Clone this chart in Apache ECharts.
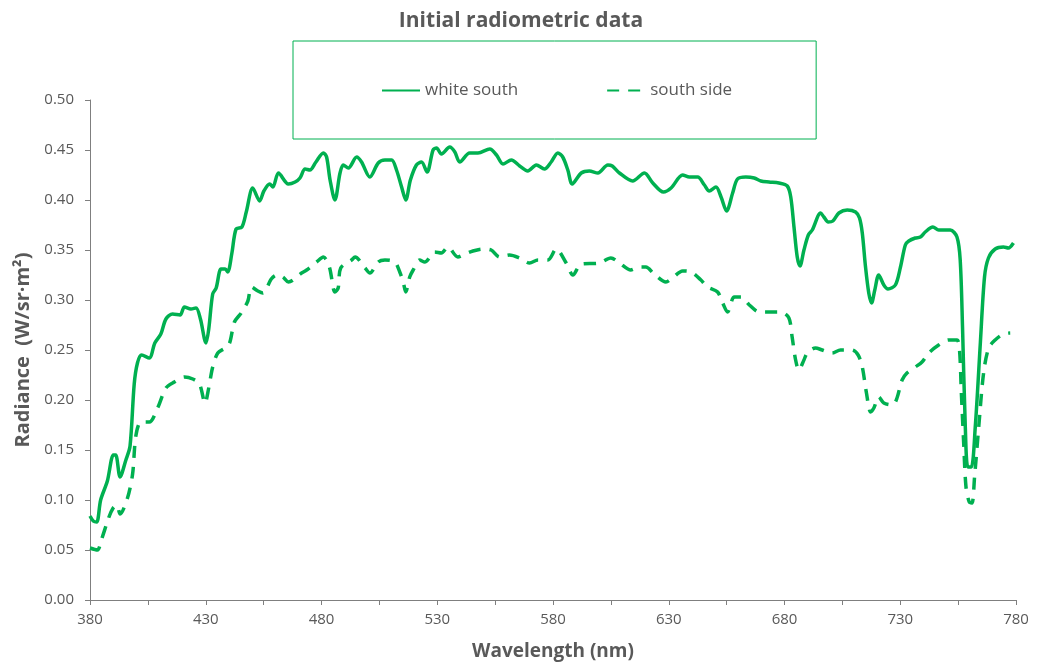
<!DOCTYPE html>
<html>
<head>
<meta charset="utf-8">
<script src="https://cdn.jsdelivr.net/npm/echarts@6/dist/echarts.min.js"></script>
<style>html,body{margin:0;padding:0;background:#fff}#c{width:1042px;height:662px}</style>
</head>
<body>
<div id="c"></div>
<script>
const titleText = 'Initial radiometric data';
const seriesNames = ['white south', 'south side'];
const xTickLabels = [380, 430, 480, 530, 580, 630, 680, 730, 780];

const wlSolid = [380,381.4,382.9,384.6,387.5,390.1,391.1,393,395.5,397.3,399.1,400.5,402.3,405.6,408,410.6,412.8,415.7,418.9,420.8,423.6,425.8,427.7,430.1,431.3,433,434.5,436.6,438.4,439.5,441.3,443.1,445.6,447.5,450.3,453.3,455.1,457.6,459,461.4,465.7,468.6,470.7,472.9,475,477.6,480.8,482.2,483.7,485.8,488,489.4,491.6,495.2,497.3,500.9,504.5,507.4,510.3,512.4,514.6,516.4,518.4,521,523.2,525.6,528.2,529.7,531.8,535.4,537.6,539.7,544,547.6,552.7,555.6,558.4,562,565.6,569.1,572.8,576.3,579.2,582.1,584.2,586.4,588.3,592.2,595.7,599.4,603.7,605.6,608.7,614.4,619.5,623.1,627.7,631,636,638.9,642.5,645.4,647.5,650.4,652.6,655,657.6,659.7,663.3,666.9,669.8,673.3,677.6,681.2,682.7,684.1,685.5,686.7,688.4,690.3,692,695.6,697,698.9,700.9,703.5,707.1,710.7,712.4,713.6,715,716.4,717.6,719,720.7,722.9,724.7,727.9,730.1,732.2,733.7,736.5,738.7,740.8,744.1,746.6,751.6,754.5,755.9,756.9,758.1,759.2,760.7,762.4,764.6,766.4,768.1,771,774.6,776.7,778.9];
const radSolid = [0.084,0.079,0.078,0.100,0.119,0.145,0.145,0.123,0.140,0.154,0.216,0.237,0.245,0.242,0.257,0.266,0.281,0.286,0.285,0.293,0.291,0.292,0.281,0.257,0.271,0.306,0.312,0.331,0.331,0.328,0.347,0.371,0.373,0.388,0.412,0.399,0.409,0.416,0.413,0.427,0.416,0.418,0.422,0.431,0.430,0.438,0.447,0.443,0.420,0.400,0.427,0.435,0.432,0.443,0.438,0.423,0.437,0.440,0.440,0.430,0.413,0.400,0.420,0.435,0.438,0.428,0.450,0.452,0.446,0.453,0.448,0.438,0.447,0.447,0.451,0.445,0.436,0.440,0.434,0.429,0.435,0.431,0.438,0.447,0.443,0.430,0.416,0.427,0.429,0.427,0.435,0.434,0.427,0.419,0.427,0.417,0.408,0.412,0.425,0.423,0.423,0.415,0.409,0.413,0.403,0.389,0.407,0.421,0.423,0.422,0.419,0.418,0.417,0.414,0.403,0.373,0.343,0.334,0.350,0.365,0.370,0.387,0.383,0.378,0.379,0.387,0.390,0.388,0.382,0.367,0.333,0.307,0.297,0.310,0.325,0.315,0.311,0.315,0.333,0.355,0.359,0.362,0.363,0.368,0.373,0.370,0.370,0.363,0.340,0.273,0.173,0.133,0.133,0.173,0.257,0.323,0.342,0.351,0.353,0.352,0.357];

const wlDashed = [380,383.2,384.9,388.2,390,391.6,393,396.2,398.4,399.8,402,405.6,409.2,412.8,416.4,420.8,424.4,427.3,429.7,431.2,433,435.2,438.4,440.3,442.4,445.3,448.2,449.7,452.5,454.7,458.3,460.6,463.3,465.7,471.4,473.6,477.9,480.8,483.4,485.8,487.2,488.3,493,494.5,498.8,500.9,504.5,507.4,511.7,513.8,515.3,516.4,518.1,519.6,522.4,524.6,527.5,528.9,531.8,534.6,538.9,541.1,545.4,549.7,553.3,556.9,561.2,565.6,569.9,573.5,577.8,581.4,585.7,588.6,592.2,600,605,608.7,613.6,617.2,620.1,623.7,628.8,631.6,636,639.6,643.9,646.8,651.1,653.3,655.4,658.3,661.2,664.8,669.1,674.8,678.3,681.9,683.3,684.8,686.2,688.4,689.8,693.4,696.3,700.6,704.2,709.2,711.8,713.6,715.4,717.2,718.6,720.7,722.9,726.8,728.6,730.8,732.9,736.5,739.4,742.3,746.6,750.9,754.5,755.6,756.4,757.4,758.4,759.8,761,762.1,763.9,766,768.2,771,774.6,777.5];
const radDashed = [0.052,0.050,0.060,0.083,0.092,0.095,0.086,0.102,0.126,0.164,0.178,0.178,0.192,0.212,0.218,0.223,0.221,0.216,0.197,0.211,0.233,0.247,0.252,0.257,0.278,0.287,0.299,0.313,0.309,0.307,0.321,0.325,0.323,0.318,0.327,0.330,0.338,0.343,0.333,0.308,0.312,0.332,0.340,0.343,0.332,0.327,0.338,0.340,0.338,0.328,0.318,0.308,0.323,0.330,0.340,0.338,0.345,0.348,0.347,0.353,0.343,0.345,0.349,0.351,0.350,0.343,0.345,0.342,0.337,0.340,0.340,0.351,0.337,0.325,0.336,0.337,0.342,0.337,0.330,0.333,0.333,0.326,0.318,0.322,0.329,0.328,0.320,0.313,0.308,0.297,0.288,0.303,0.303,0.295,0.288,0.288,0.288,0.282,0.263,0.240,0.230,0.240,0.247,0.252,0.250,0.247,0.250,0.250,0.245,0.233,0.207,0.188,0.192,0.203,0.197,0.195,0.202,0.220,0.227,0.233,0.238,0.247,0.255,0.260,0.260,0.250,0.207,0.157,0.113,0.098,0.097,0.123,0.173,0.227,0.252,0.260,0.266,0.267];

const GREEN = '#00B050';
const TXT = '#595959';
const FONT = '"Open Sans", "Noto Sans", sans-serif';

function pairs(xs, ys) { return xs.map((x, i) => [x, ys[i]]); }

const chart = echarts.init(document.getElementById('c'), null, { renderer: 'canvas' });
chart.setOption({
  backgroundColor: '#fff',
  animation: false,
  textStyle: { fontFamily: FONT },
  title: {
    text: titleText, left: 'center', top: 6,
    textStyle: { fontSize: 21, fontWeight: 'bold', color: TXT, fontFamily: FONT }
  },
  legend: {
    left: 293, top: 41,
    padding: [41, 84, 40, 88],
    borderColor: GREEN, borderWidth: 1,
    itemGap: 88, itemWidth: 38, itemHeight: 14,
    itemStyle: { opacity: 0 },
    textStyle: { fontSize: 17, color: TXT, fontFamily: FONT },
    data: seriesNames
  },
  grid: { left: 90, right: 26, top: 100, bottom: 62, containLabel: false, outerBoundsMode: 'none' },
  xAxis: {
    type: 'value', min: 380, max: 780, interval: 50,
    name: 'Wavelength (nm)', nameLocation: 'middle', nameGap: 42,
    nameTextStyle: { fontSize: 19, fontWeight: 'bold', color: TXT, fontFamily: FONT },
    axisLine: { show: true, lineStyle: { color: '#7f7f7f', width: 1 } },
    axisTick: { show: true, length: 5, lineStyle: { color: '#7f7f7f' } },
    minorTick: { show: true, splitNumber: 2, length: 5, lineStyle: { color: '#7f7f7f' } },
    splitLine: { show: false },
    axisLabel: { color: TXT, fontSize: 15, margin: 12, fontFamily: FONT,
      formatter: v => (xTickLabels.indexOf(v) >= 0 ? String(v) : '') }
  },
  yAxis: {
    type: 'value', min: 0, max: 0.5, interval: 0.05,
    name: 'Radiance  (W/sr·m²)', nameLocation: 'middle', nameGap: 55,
    nameTextStyle: { fontSize: 20, fontWeight: 'bold', color: TXT, fontFamily: FONT },
    axisLine: { show: true, lineStyle: { color: '#7f7f7f', width: 1 } },
    axisTick: { show: true, length: 5, lineStyle: { color: '#7f7f7f' } },
    splitLine: { show: false },
    axisLabel: { color: TXT, fontSize: 15, margin: 16, fontFamily: FONT,
      formatter: v => v.toFixed(2) }
  },
  series: [
    {
      name: seriesNames[0], type: 'line', data: pairs(wlSolid, radSolid),
      showSymbol: false, symbol: 'none', smooth: 0.3,
      lineStyle: { color: GREEN, width: 3.5 }, itemStyle: { color: GREEN }
    },
    {
      name: seriesNames[1], type: 'line', data: pairs(wlDashed, radDashed),
      showSymbol: false, symbol: 'none', smooth: 0.3,
      lineStyle: { color: GREEN, width: 3.5, type: [12, 9] }, itemStyle: { color: GREEN }
    }
  ]
});
</script>
</body>
</html>
